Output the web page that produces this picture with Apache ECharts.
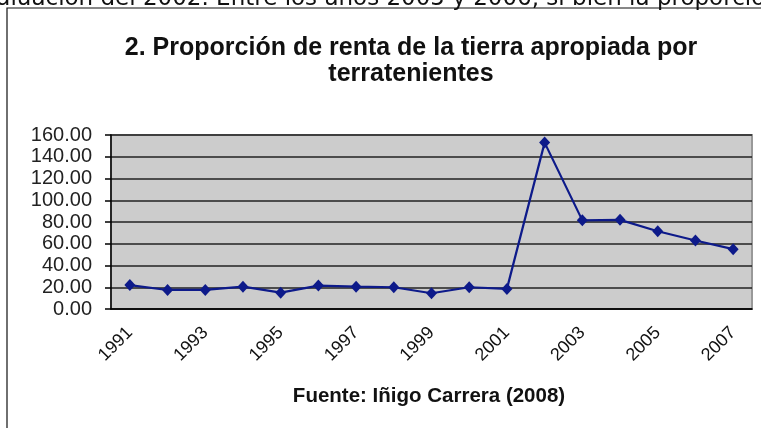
<!DOCTYPE html>
<html>
<head>
<meta charset="utf-8">
<script src="https://cdn.jsdelivr.net/npm/echarts@6/dist/echarts.min.js"></script>
<style>
html,body{margin:0;padding:0;background:#fff;}
#c{width:761px;height:428px;}
</style>
</head>
<body>
<div id="c"></div>
<script>
const years = ['1991','1992','1993','1994','1995','1996','1997','1998','1999','2000','2001','2002','2003','2004','2005','2006','2007'];
const proporcion = [22, 17.5, 17.5, 20.5, 15, 21.5, 20.5, 20, 14.5, 20, 18.5, 153, 81.5, 82, 71.5, 63, 55];
const yTicks = { min: 0, max: 160, interval: 20 };
const titleLines = ['2. Proporción de renta de la tierra apropiada por', 'terratenientes'];
const sourceText = 'Fuente: Iñigo Carrera (2008)';
const bodyText = 'devaluación del 2002. Entre los años 2005 y 2006, si bien la proporción';

const chart = echarts.init(document.getElementById('c'));
chart.setOption({
  animation: false,
  backgroundColor: '#fff',
  grid: {
    left: 111, right: 9, top: 135, bottom: 119,
    show: true, backgroundColor: '#cccccc', borderColor: '#999999', borderWidth: 2
  },
  xAxis: {
    type: 'category',
    data: years,
    boundaryGap: true,
    axisLine: { lineStyle: { color: '#000', width: 1.5 } },
    axisTick: { interval: 0, length: 5, lineStyle: { color: '#000', width: 1.5 } },
    axisLabel: {
      interval: 1, rotate: 45, margin: 21,
      fontFamily: 'Liberation Sans', fontSize: 18, color: '#111'
    },
    splitLine: { show: false }
  },
  yAxis: {
    type: 'value',
    min: yTicks.min, max: yTicks.max, interval: yTicks.interval,
    axisLine: { show: true, lineStyle: { color: '#000', width: 1.5 } },
    axisTick: { show: true, length: 6, lineStyle: { color: '#000', width: 1.5 } },
    axisLabel: {
      margin: 19, fontFamily: 'Liberation Sans', fontSize: 20, color: '#222',
      formatter: v => v.toFixed(2)
    },
    splitLine: { show: true, lineStyle: { color: '#222', width: 1.5 } }
  },
  series: [{
    type: 'line',
    data: proporcion,
    symbol: 'diamond',
    symbolSize: [11, 12],
    showAllSymbol: true,
    lineStyle: { color: '#0d1a8a', width: 2.2 },
    itemStyle: { color: '#0d1a8a' }
  }],
  graphic: [
    { type: 'rect', shape: { x: 7, y: 8, width: 800, height: 500 },
      style: { fill: 'none', stroke: '#111', lineWidth: 1.2 }, z: 0 },
    { type: 'text', x: -46, y: -1,
      style: { text: bodyText, font: '23px "DejaVu Sans"', fill: '#111', verticalAlign: 'middle' }, z: 10 },
    { type: 'text', x: 411, y: 36,
      style: { text: titleLines[0], font: 'bold 25px "Liberation Sans"', fill: '#111', align: 'center', verticalAlign: 'top' } },
    { type: 'text', x: 411, y: 62,
      style: { text: titleLines[1], font: 'bold 25px "Liberation Sans"', fill: '#111', align: 'center', verticalAlign: 'top' } },
    { type: 'text', x: 429, y: 386,
      style: { text: sourceText, font: 'bold 20.5px "Liberation Sans"', fill: '#111', align: 'center', verticalAlign: 'top' } }
  ]
});
</script>
</body>
</html>
